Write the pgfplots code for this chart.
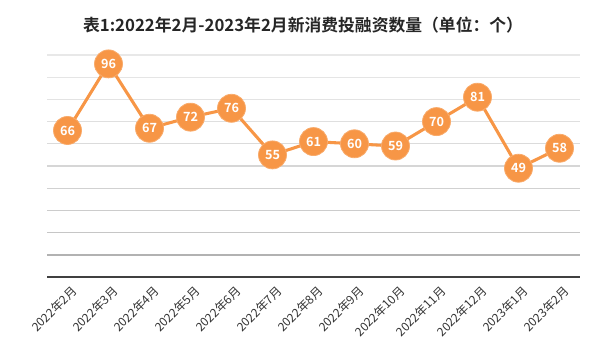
\documentclass[border=0pt]{standalone}
\usepackage{fontspec}
\setmainfont{Noto Sans CJK SC}[BoldFont={Noto Sans CJK SC Bold}]
\usepackage{pgfplots}
\pgfplotsset{compat=1.18}
\definecolor{lineor}{HTML}{F79646}
\begin{document}
\begin{tikzpicture}
\path[use as bounding box] (0pt,0pt) rectangle (450.75pt,270.75pt);
\node[font=\bfseries\fontsize{12.6}{13}\selectfont, text=black!85] at (227.25pt,252pt) {表1:2022年2月-2023年2月新消费投融资数量（单位：个）};
\begin{axis}[
  at={(35.25pt,63pt)}, anchor=south west, scale only axis,
  width=399.75pt, height=166.5pt,
  xmin=-0.5, xmax=12.5, ymin=0, ymax=100,
  axis line style={draw=none},
  major tick length=0pt,
  ytick=\empty,
  xtick={0,...,12},
  xticklabels={2022年2月,2022年3月,2022年4月,2022年5月,2022年6月,2022年7月,2022年8月,2022年9月,2022年10月,2022年11月,2022年12月,2023年1月,2023年2月},
  x tick label style={rotate=45, anchor=east, font=\fontsize{9}{9}\selectfont, text=black!80, xshift=1pt, yshift=-10pt},
  /pgf/number format/assume math mode=true,
  clip=false,
  nodes near coords,
  nodes near coords align={center},
  every node near coord/.append style={anchor=center, text=white, font=\bfseries\fontsize{9.5}{10}\selectfont},
]
\draw[gray!18, line width=0.9pt] (rel axis cs:0,1) -- (rel axis cs:1,1);
\draw[gray!20, line width=0.9pt] (rel axis cs:0,0.9) -- (rel axis cs:1,0.9);
\draw[gray!22, line width=0.9pt] (rel axis cs:0,0.8) -- (rel axis cs:1,0.8);
\draw[gray!25, line width=0.9pt] (rel axis cs:0,0.7) -- (rel axis cs:1,0.7);
\draw[gray!28, line width=0.9pt] (rel axis cs:0,0.6) -- (rel axis cs:1,0.6);
\draw[gray!32, line width=0.9pt] (rel axis cs:0,0.5) -- (rel axis cs:1,0.5);
\draw[gray!36, line width=0.8pt] (rel axis cs:0,0.4) -- (rel axis cs:1,0.4);
\draw[gray!40, line width=0.8pt] (rel axis cs:0,0.3) -- (rel axis cs:1,0.3);
\draw[gray!45, line width=0.8pt] (rel axis cs:0,0.2) -- (rel axis cs:1,0.2);
\draw[gray!60, line width=1.1pt] (rel axis cs:0,0.1) -- (rel axis cs:1,0.1);
\draw[black!75, line width=1.6pt] (rel axis cs:0,0) -- (rel axis cs:1,0);
\addplot[color=lineor, line width=2.3pt, mark=*, mark size=10.5pt, mark options={fill=lineor, draw=lineor!80!white, line width=0.6pt}]
coordinates {(0,66) (1,96) (2,67) (3,72) (4,76) (5,55) (6,61) (7,60) (8,59) (9,70) (10,81) (11,49) (12,58)};
\end{axis}
\end{tikzpicture}
\end{document}
